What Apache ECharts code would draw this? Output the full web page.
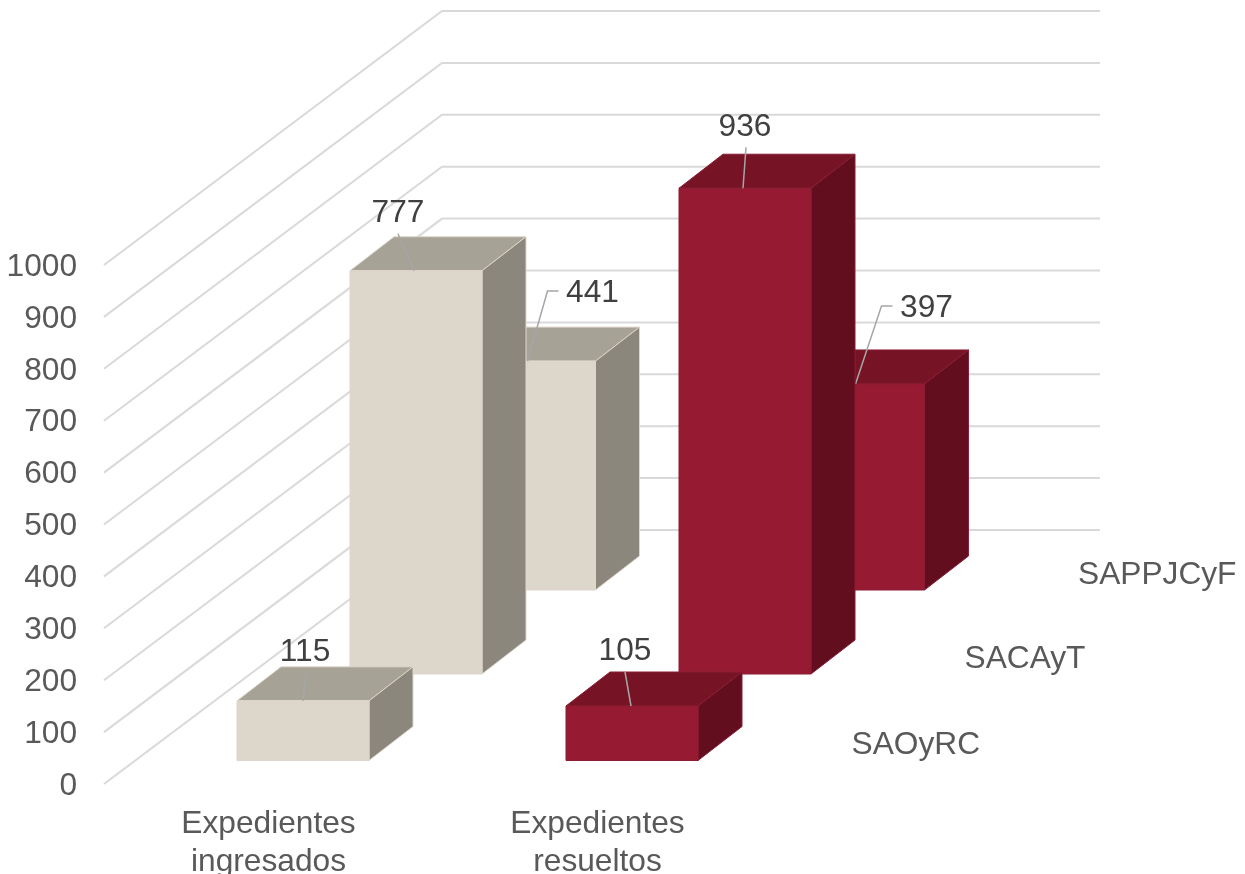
<!DOCTYPE html>
<html>
<head>
<meta charset="utf-8">
<style>html,body{margin:0;padding:0;background:#fff}#c{width:1245px;height:874px}</style>
<script src="https://cdn.jsdelivr.net/npm/echarts@6/dist/echarts.min.js"></script>
</head>
<body>
<div id="c"></div>
<script>
// ---- data ----
const categories = ['Expedientes\ningresados', 'Expedientes\nresueltos'];
const depthNames = ['SAOyRC', 'SACAyT', 'SAPPJCyF'];
const saoyrc = [115, 105];
const sacayt = [777, 936];
const sappjcyf = [441, 397];
const yTicks = [0, 100, 200, 300, 400, 500, 600, 700, 800, 900, 1000];

// ---- oblique projection (styling, not data) ----
const WALL = [338, -254];
const ROW = [[34.5, -23.5], [147.5, -110], [261, -194]];
const BAR_W = 132, BAR_D = [44, -34];
const FONT = '"Liberation Sans", Arial, sans-serif';
const FONT_SIZE = 31.7;
const SKINS = [
  { front: '#DDD6CB', top: '#A6A296', side: '#8B877D', edge: '#DDD6CB' },
  { front: '#951A32', top: '#761426', side: '#620E1F', edge: '#8A1C33' }
];
// leader line (relative to the centre of the bar's front top edge) and label centre
const LEADERS = [
  [{ p: [[0, 0], [3, -28]], t: [2, -49] }, { p: [[-1, 0], [-7, -34]], t: [-7, -55] }],
  [{ p: [[-2, 0], [-18, -37]], t: [-18, -57] }, { p: [[-2, 0], [1, -41]], t: [0, -61] }],
  [{ p: [[-2, 0], [18, -70], [29, -70]], t: [63, -68] }, { p: [[-3, 0], [23, -78], [34, -78]], t: [68, -76] }]
];

function poly(points, fill, stroke) {
  return { type: 'polygon', shape: { points }, style: { fill, stroke, lineWidth: 1 }, silent: true };
}

function barSeries(name, values, row) {
  return {
    type: 'custom', name, silent: true, z: 5 - row,
    data: values.map((v, i) => [i, v]),
    encode: { x: 0, y: 1 },
    renderItem(params, api) {
      const c = api.value(0), v = api.value(1);
      const base = api.coord([c, 0]), head = api.coord([c, v]);
      const dx = ROW[row][0], dy = ROW[row][1];
      const s = SKINS[c];
      const l = base[0] + dx - BAR_W / 2, r = l + BAR_W;
      const b = base[1] + dy, t = head[1] + dy;
      const ox = BAR_D[0], oy = BAR_D[1];
      const cx = (l + r) / 2;
      const lead = LEADERS[row][c];
      return {
        type: 'group',
        children: [
          poly([[l, t], [l + ox, t + oy], [r + ox, t + oy], [r, t]], s.top, s.edge),
          poly([[r, t], [r + ox, t + oy], [r + ox, b + oy], [r, b]], s.side, s.edge),
          poly([[l, t], [r, t], [r, b], [l, b]], s.front, s.edge),
          { type: 'polyline', silent: true,
            shape: { points: lead.p.map(q => [cx + q[0], t + q[1]]) },
            style: { stroke: '#A6A6A6', lineWidth: 1.5, fill: null } },
          { type: 'text', silent: true,
            style: { x: cx + lead.t[0], y: t + lead.t[1], text: String(v), fill: '#404040',
                     font: FONT_SIZE + 'px ' + FONT, align: 'center', verticalAlign: 'middle' } }
        ]
      };
    }
  };
}

const option = {
  animation: false,
  backgroundColor: '#fff',
  grid: { left: 104, top: 265, width: 658, height: 519, containLabel: false, outerBoundsMode: 'none' },
  xAxis: {
    type: 'category', data: categories,
    axisLine: { show: false }, axisTick: { show: false }, splitLine: { show: false },
    axisLabel: { margin: 21, color: '#595959', fontFamily: FONT, fontSize: FONT_SIZE, lineHeight: 38, interval: 0, verticalAlign: 'top' }
  },
  yAxis: {
    type: 'value', min: 0, max: 1000, interval: 100,
    axisLine: { show: false }, axisTick: { show: false }, splitLine: { show: false },
    axisLabel: { show: false }
  },
  series: [
    {
      type: 'custom', name: 'walls', silent: true, z: 1,
      data: yTicks.map(v => [0, v]),
      encode: { x: 0, y: 1 },
      renderItem(params, api) {
        const v = api.value(1);
        const a = api.coord([0, v]);
        const x0 = a[0] - api.size([1, 0])[0] / 2;
        const w = api.size([1, 0])[0] * categories.length;
        return {
          type: 'group',
          children: [
            { type: 'polyline', silent: true,
              shape: { points: [[x0, a[1]], [x0 + WALL[0], a[1] + WALL[1]], [x0 + WALL[0] + w, a[1] + WALL[1]]] },
              style: { stroke: '#D9D9D9', lineWidth: 2, fill: null } },
            { type: 'text', silent: true,
              style: { x: x0 - 27, y: a[1] + 2, text: String(v), fill: '#595959',
                       font: FONT_SIZE + 'px ' + FONT, align: 'right', verticalAlign: 'middle' } }
          ]
        };
      }
    },
    barSeries(depthNames[2], sappjcyf, 2),
    barSeries(depthNames[1], sacayt, 1),
    barSeries(depthNames[0], saoyrc, 0),
    {
      type: 'custom', name: 'depthAxis', silent: true, z: 6,
      data: depthNames.map((n, i) => [categories.length - 1, 0, i]),
      encode: { x: 0, y: 1 },
      renderItem(params, api) {
        const a = api.coord([api.value(0), 0]);
        const row = api.value(2);
        const x = a[0] + api.size([1, 0])[0] / 2 + ROW[row][0] + 55;
        const y = a[1] + ROW[row][1] - 15;
        return {
          type: 'text', silent: true,
          style: { x, y, text: depthNames[row], fill: '#595959', font: FONT_SIZE + 'px ' + FONT, align: 'left', verticalAlign: 'middle' }
        };
      }
    }
  ]
};
echarts.init(document.getElementById('c'), null, { renderer: 'canvas' }).setOption(option);
</script>
</body>
</html>
